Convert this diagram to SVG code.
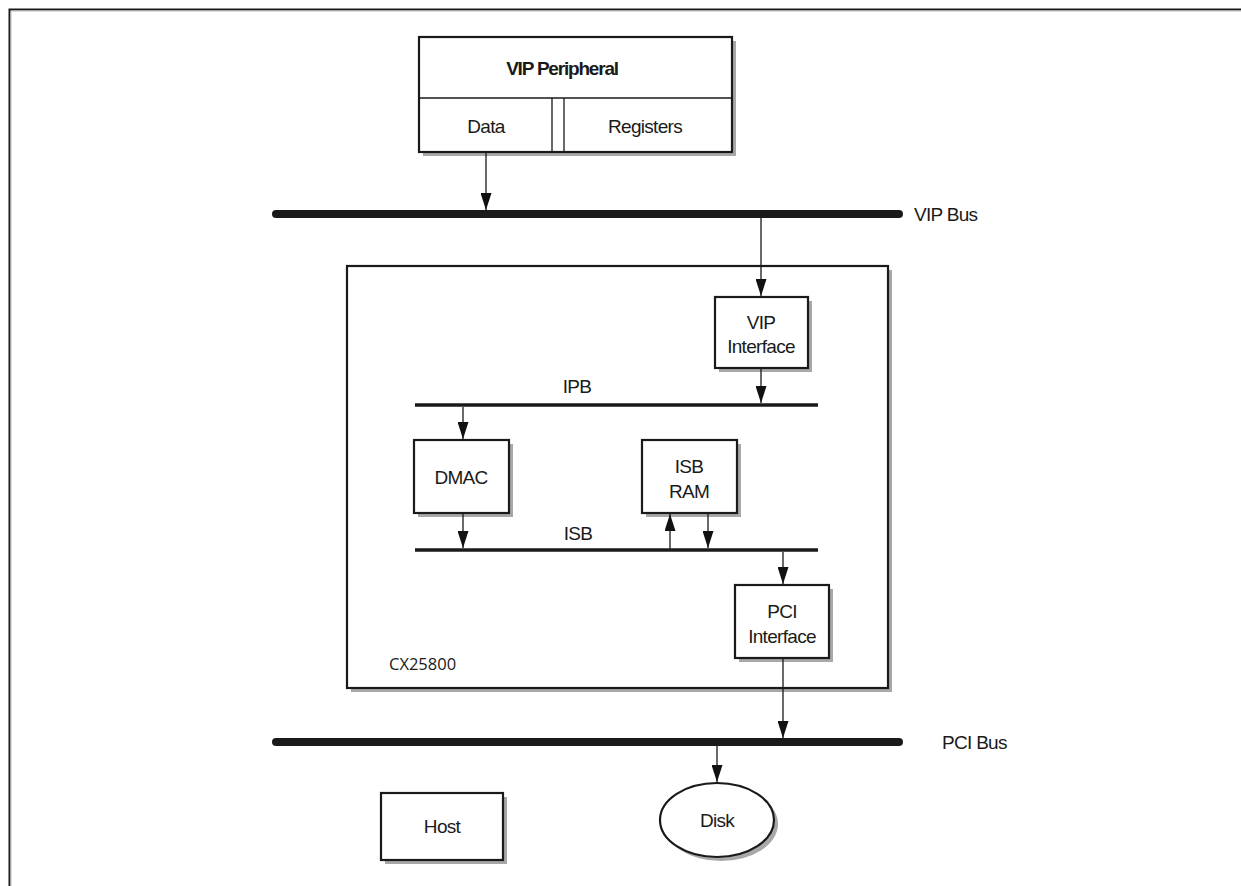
<svg xmlns="http://www.w3.org/2000/svg" width="1241" height="886" viewBox="0 0 1241 886">
<defs>
<marker id="ah" markerWidth="18" markerHeight="11" refX="17" refY="5.5" orient="auto-start-reverse" markerUnits="userSpaceOnUse" viewBox="0 0 18 11">
<path d="M0,0 L17,5.5 L0,11 Z" fill="#111"/>
</marker>
</defs>
<style>
.box{fill:#fff;stroke:#1a1a1a;stroke-width:2.2}
.sh{fill:#a8a8a8}
.lbl{font-family:"Liberation Sans",Arial,sans-serif;font-size:19px;fill:#1a1a1a;letter-spacing:-0.7px;text-anchor:middle}
.bus{stroke:#1a1a1a;stroke-width:8;stroke-linecap:round}
.ibus{stroke:#1a1a1a;stroke-width:3.5}
.conn{stroke:#1a1a1a;stroke-width:1.3;fill:none}
</style>
<rect width="1241" height="886" fill="#fff"/>
<!-- page frame -->
<path d="M9.5,886 V9.5 H1241" fill="none" stroke="#1a1a1a" stroke-width="2"/>
<path d="M11,886 V11 H1241" fill="none" stroke="#bbb" stroke-width="1"/>

<g id="vip-peripheral">
<rect class="sh" x="423" y="41" width="313" height="115"/>
<rect class="box" x="419" y="37" width="313" height="115"/>
<line x1="419" y1="98" x2="732" y2="98" stroke="#1a1a1a" stroke-width="1.3"/>
<line x1="552" y1="98" x2="552" y2="152" stroke="#1a1a1a" stroke-width="1.3"/>
<line x1="564" y1="98" x2="564" y2="152" stroke="#1a1a1a" stroke-width="1.3"/>
<text class="lbl" x="562" y="75" font-weight="bold" style="letter-spacing:-1.2px">VIP Peripheral</text>
<text class="lbl" x="486" y="133">Data</text>
<text class="lbl" x="645" y="133">Registers</text>
</g>

<g id="vip-bus">
<line class="bus" x1="276" y1="214" x2="899" y2="214"/>
<text class="lbl" x="914" y="221" style="text-anchor:start">VIP Bus</text>
</g>

<g id="cx25800">
<rect class="sh" x="351" y="270" width="541" height="422"/>
<rect class="box" x="347" y="266" width="541" height="422"/>
<text x="389" y="670" font-family="'Open Sans','Noto Sans',sans-serif" font-size="16.5" fill="#1a1a1a">CX25800</text>
</g>

<g id="vip-interface">
<rect class="sh" x="719" y="301" width="93" height="71"/>
<rect class="box" x="715" y="297" width="93" height="71"/>
<text class="lbl" x="761" y="329">VIP</text>
<text class="lbl" x="761" y="353">Interface</text>
</g>

<g id="ipb">
<line class="ibus" x1="415" y1="405" x2="818" y2="405"/>
<text class="lbl" x="577" y="393">IPB</text>
</g>

<g id="dmac">
<rect class="sh" x="418" y="444" width="95" height="73"/>
<rect class="box" x="414" y="440" width="95" height="73"/>
<text class="lbl" x="461" y="484">DMAC</text>
</g>

<g id="isb-ram">
<rect class="sh" x="646" y="444" width="95" height="73"/>
<rect class="box" x="642" y="440" width="95" height="73"/>
<text class="lbl" x="689" y="473">ISB</text>
<text class="lbl" x="689" y="498">RAM</text>
</g>

<g id="isb">
<line class="ibus" x1="415" y1="550" x2="818" y2="550"/>
<text class="lbl" x="578" y="540">ISB</text>
</g>

<g id="pci-interface">
<rect class="sh" x="739" y="589" width="94" height="73"/>
<rect class="box" x="735" y="585" width="94" height="73"/>
<text class="lbl" x="782" y="618">PCI</text>
<text class="lbl" x="782" y="643">Interface</text>
</g>

<g id="pci-bus">
<line class="bus" x1="276" y1="742" x2="899" y2="742"/>
<text class="lbl" x="942" y="749" style="text-anchor:start">PCI Bus</text>
</g>

<g id="host">
<rect class="sh" x="385" y="797" width="122" height="67"/>
<rect class="box" x="381" y="793" width="122" height="67"/>
<text class="lbl" x="442" y="833">Host</text>
</g>

<g id="disk">
<ellipse class="sh" cx="721" cy="824" rx="57" ry="37"/>
<ellipse class="box" cx="717" cy="820" rx="57" ry="37"/>
<text class="lbl" x="717" y="827">Disk</text>
</g>

<g id="connectors">
<line class="conn" x1="486" y1="152" x2="486" y2="210" marker-end="url(#ah)"/>
<line class="conn" x1="761" y1="218" x2="761" y2="296" marker-end="url(#ah)"/>
<line class="conn" x1="761" y1="368" x2="761" y2="403" marker-end="url(#ah)"/>
<line class="conn" x1="463" y1="407" x2="463" y2="439" marker-end="url(#ah)"/>
<line class="conn" x1="463" y1="513" x2="463" y2="548" marker-end="url(#ah)"/>
<line class="conn" x1="670" y1="549" x2="670" y2="514" marker-end="url(#ah)"/>
<line class="conn" x1="708" y1="513" x2="708" y2="548" marker-end="url(#ah)"/>
<line class="conn" x1="783" y1="552" x2="783" y2="584" marker-end="url(#ah)"/>
<line class="conn" x1="783" y1="658" x2="783" y2="738" marker-end="url(#ah)"/>
<line class="conn" x1="717" y1="746" x2="717" y2="782" marker-end="url(#ah)"/>
</g>
</svg>
